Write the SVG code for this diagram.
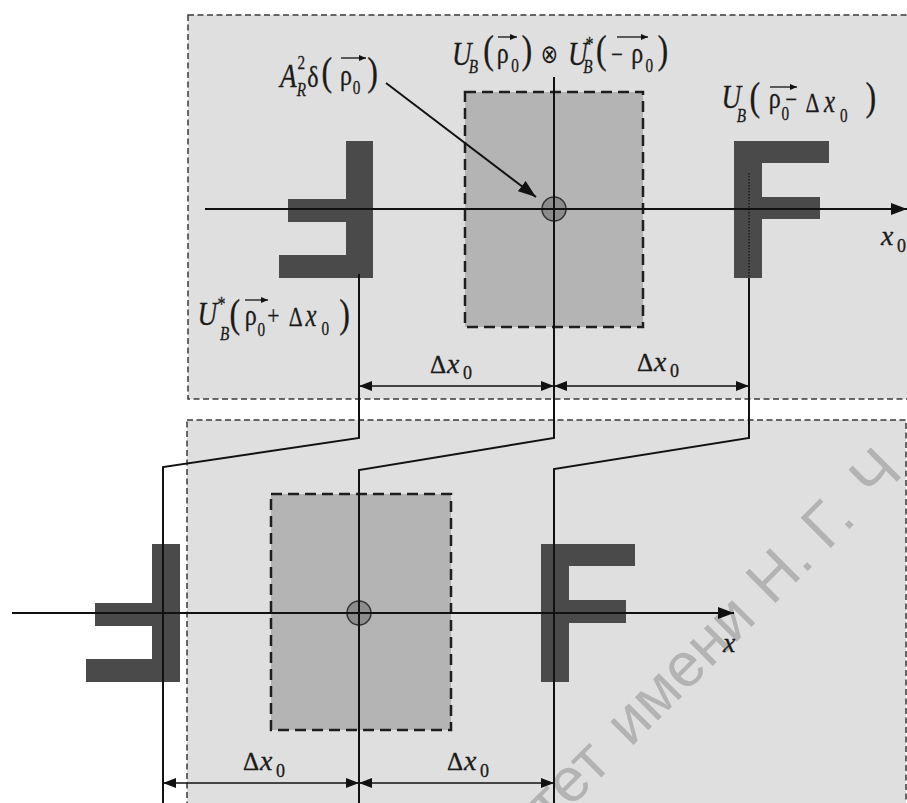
<svg xmlns="http://www.w3.org/2000/svg" width="907" height="803" viewBox="0 0 907 803">
<defs>
<marker id="ax" viewBox="0 0 16 12" refX="16" refY="6" markerWidth="16" markerHeight="12" markerUnits="userSpaceOnUse" orient="auto"><path d="M0,0 L16,6 L0,12 z" fill="#111"/></marker>
<marker id="dm" viewBox="0 0 13 10" refX="13" refY="5" markerWidth="13" markerHeight="10" markerUnits="userSpaceOnUse" orient="auto-start-reverse"><path d="M0,0 L13,5 L0,10 z" fill="#111"/></marker>
<marker id="pt" viewBox="0 0 18 13" refX="18" refY="6.5" markerWidth="18" markerHeight="13" markerUnits="userSpaceOnUse" orient="auto"><path d="M0,0 L18,6.5 L0,13 z" fill="#111"/></marker>
<marker id="vc" viewBox="0 0 7 6" refX="7" refY="3" markerWidth="7" markerHeight="6" markerUnits="userSpaceOnUse" orient="auto"><path d="M0,0 L7,3 L0,6 z" fill="#111"/></marker>
</defs>
<style>
.panel{fill:#dfdfdf;stroke:#3a3a3a;stroke-width:1.5;stroke-dasharray:6 3.5}
.inner{fill:#b4b4b4;stroke:#1e1e1e;stroke-width:2.5;stroke-dasharray:11 6}
.gl{fill:#4a4a4a}
.ln{stroke:#111;stroke-width:2;fill:none}
.dim{stroke:#111;stroke-width:1.5;fill:none;marker-start:url(#dm);marker-end:url(#dm)}
.vec{stroke:#111;stroke-width:1.3;marker-end:url(#vc)}
.spot{fill:#8c8c8c;stroke:#333;stroke-width:1.5}
.m{fill:#1a1a1a;stroke:#1a1a1a;stroke-width:0.3}
.i{font-style:italic}
.wm{fill:#b3b3b3;font-size:62px}
</style>
<rect width="907" height="803" fill="#fff"/>

<g id="panel-top">
<rect class="panel" x="188" y="15" width="740" height="384"/>
<rect class="inner" x="465" y="92" width="178" height="235"/>
<circle class="spot" cx="554" cy="209" r="12"/>
</g>
<g id="panel-bottom">
<rect class="panel" x="187" y="420" width="719" height="420"/>
<rect class="inner" x="271" y="494" width="180" height="236"/>
<circle class="spot" cx="359" cy="613" r="12"/>
</g>

<text class="wm" font-family="Liberation Sans, Arial, sans-serif" transform="translate(698.5,698.5) rotate(-45)"><tspan x="-196" y="-13">тет </tspan><tspan x="-83" y="-13">имени </tspan><tspan x="117" y="-13">Н. </tspan><tspan x="195" y="-13">Г. </tspan><tspan x="263" y="-13">Ч</tspan></text>

<g id="glyph-top-left" class="gl">
<rect x="346" y="141" width="27" height="137"/>
<rect x="288" y="199" width="58" height="23"/>
<rect x="279" y="255" width="67" height="23"/>
</g>
<g id="glyph-top-right" class="gl">
<rect x="734" y="141" width="28" height="137"/>
<rect x="734" y="141" width="95" height="22"/>
<rect x="734" y="197" width="86" height="22"/>
</g>
<g id="glyph-bottom-left" class="gl">
<rect x="152" y="544" width="28" height="138"/>
<rect x="95" y="603" width="57" height="23"/>
<rect x="86" y="659" width="66" height="23"/>
</g>
<g id="glyph-bottom-right" class="gl">
<rect x="541" y="544" width="28" height="138"/>
<rect x="541" y="544" width="94" height="22"/>
<rect x="541" y="600" width="85" height="23"/>
</g>

<g id="connectors">
<line class="ln" x1="205" y1="209" x2="907" y2="209" marker-end="url(#ax)"/>
<line class="ln" x1="12" y1="613" x2="734" y2="613" marker-end="url(#ax)"/>
<polyline class="ln" points="359,274 359,438 163,467 163,803"/>
<polyline class="ln" points="554,77 554,438 359,470 359,803"/>
<line x1="749" y1="173" x2="749" y2="278" stroke="#111" stroke-width="1.2" stroke-dasharray="1.5 1.5"/>
<polyline class="ln" points="749,278 749,438 554,469 554,803"/>
<line class="ln" x1="386" y1="83" x2="536" y2="197" marker-end="url(#pt)"/>
<line class="dim" x1="359" y1="386" x2="554" y2="386"/>
<line class="dim" x1="554" y1="386" x2="749" y2="386"/>
<line class="dim" x1="163" y1="783" x2="359" y2="783"/>
<line class="dim" x1="359" y1="783" x2="554" y2="783"/>
</g>

<g id="label-product">
<text class="m" font-family="Liberation Serif, DejaVu Serif, serif" transform="matrix(0.8 0 0 1 0 0)"><tspan class="i" x="565" y="65" font-size="34">U</tspan><tspan class="i" x="586" y="73" font-size="19">B</tspan><tspan x="604" y="63" font-size="40">(</tspan><tspan x="621" y="63" font-size="30">ρ</tspan><tspan x="639" y="72" font-size="19">0</tspan><tspan x="652" y="63" font-size="40">)</tspan><tspan x="676" y="63" font-size="26" font-family="DejaVu Sans, sans-serif" stroke-width="0">⊗</tspan><tspan class="i" x="710" y="65" font-size="34">U</tspan><tspan x="732" y="51" font-size="20">*</tspan><tspan class="i" x="729" y="73" font-size="19">B</tspan><tspan x="745" y="63" font-size="40">(</tspan><tspan x="764" y="63" font-size="26">−</tspan><tspan x="789" y="63" font-size="30">ρ</tspan><tspan x="807" y="72" font-size="19">0</tspan><tspan x="822" y="63" font-size="40">)</tspan></text>
<line class="vec" x1="498" y1="37" x2="517" y2="37"/>
<line class="vec" x1="617" y1="37" x2="648" y2="37"/>
</g>

<g id="label-delta">
<text class="m" font-family="Liberation Serif, DejaVu Serif, serif" transform="matrix(0.8 0 0 1 0 0)"><tspan class="i" x="350" y="87" font-size="34">A</tspan><tspan class="i" x="371" y="96" font-size="19">R</tspan><tspan x="372" y="69" font-size="19">2</tspan><tspan x="384" y="87" font-size="30">δ</tspan><tspan x="402" y="85" font-size="40">(</tspan><tspan x="425" y="85" font-size="30">ρ</tspan><tspan x="441" y="94" font-size="19">0</tspan><tspan x="459" y="85" font-size="40">)</tspan></text>
<line class="vec" x1="341" y1="58" x2="366" y2="58"/>
</g>

<g id="label-shift-minus">
<text class="m" font-family="Liberation Serif, DejaVu Serif, serif" transform="matrix(0.8 0 0 1 0 0)"><tspan class="i" x="902" y="108" font-size="34">U</tspan><tspan class="i" x="921" y="122" font-size="19">B</tspan><tspan x="937" y="110" font-size="40">(</tspan><tspan x="961" y="108" font-size="30">ρ</tspan><tspan x="977" y="120" font-size="19">0</tspan><tspan x="982" y="108" font-size="26">−</tspan><tspan x="1007" y="112" font-size="27">Δ</tspan><tspan class="i" x="1030" y="112" font-size="31">x</tspan><tspan x="1050" y="122" font-size="19">0</tspan><tspan x="1082" y="110" font-size="40">)</tspan></text>
<line class="vec" x1="770" y1="87" x2="797" y2="87"/>
</g>

<g id="label-shift-plus">
<text class="m" font-family="Liberation Serif, DejaVu Serif, serif" transform="matrix(0.8 0 0 1 0 0)"><tspan class="i" x="247" y="325" font-size="34">U</tspan><tspan x="272" y="311" font-size="20">*</tspan><tspan class="i" x="275" y="340" font-size="19">B</tspan><tspan x="287" y="327" font-size="40">(</tspan><tspan x="306" y="325" font-size="30">ρ</tspan><tspan x="322" y="336" font-size="19">0</tspan><tspan x="334" y="325" font-size="27">+</tspan><tspan x="361" y="326" font-size="27">Δ</tspan><tspan class="i" x="382" y="326" font-size="31">x</tspan><tspan x="402" y="335" font-size="19">0</tspan><tspan x="424" y="327" font-size="40">)</tspan></text>
<line class="vec" x1="245" y1="300" x2="268" y2="300"/>
</g>

<g id="dim-labels">
<text class="m" font-family="Liberation Serif, DejaVu Serif, serif"><tspan x="430" y="373" font-size="25">Δ</tspan><tspan class="i" x="447" y="373" font-size="28">x</tspan><tspan x="463" y="379" font-size="18">0</tspan></text>
<text class="m" font-family="Liberation Serif, DejaVu Serif, serif"><tspan x="637" y="371" font-size="25">Δ</tspan><tspan class="i" x="654" y="371" font-size="28">x</tspan><tspan x="670" y="377" font-size="18">0</tspan></text>
<text class="m" font-family="Liberation Serif, DejaVu Serif, serif"><tspan x="243" y="770" font-size="25">Δ</tspan><tspan class="i" x="260" y="770" font-size="28">x</tspan><tspan x="276" y="777" font-size="18">0</tspan></text>
<text class="m" font-family="Liberation Serif, DejaVu Serif, serif"><tspan x="447" y="770" font-size="25">Δ</tspan><tspan class="i" x="464" y="770" font-size="28">x</tspan><tspan x="480" y="777" font-size="18">0</tspan></text>
</g>

<g id="axis-labels">
<text class="m" font-family="Liberation Serif, DejaVu Serif, serif"><tspan class="i" x="881" y="245" font-size="28">x</tspan><tspan x="897" y="252" font-size="18">0</tspan></text>
<text class="m i" font-family="Liberation Serif, DejaVu Serif, serif" x="723" y="652" font-size="28">x</text>
</g>
</svg>
